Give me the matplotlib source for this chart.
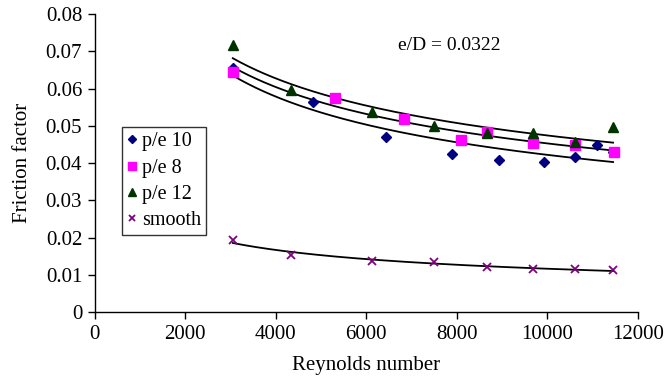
import numpy as np
import matplotlib
matplotlib.use("Agg")
import matplotlib.pyplot as plt

plt.rcParams["font.family"] = ["Liberation Serif", "DejaVu Serif"]

# data (last p/e 10 point sits under the p/e 8 square)
re_pe10 = [3050, 4820, 6430, 7900, 8930, 9930, 10610, 11090, 11450]
f_pe10 = [0.0655, 0.0565, 0.0469, 0.0426, 0.0408, 0.0404, 0.0417, 0.0449, 0.0430]

re_pe8 = [3060, 5310, 6840, 8100, 8660, 9690, 10610, 11460]
f_pe8 = [0.0645, 0.0574, 0.0518, 0.0462, 0.0484, 0.0453, 0.0449, 0.0431]

re_pe12 = [3050, 4330, 6120, 7500, 8660, 9680, 10610, 11450]
f_pe12 = [0.0717, 0.0596, 0.0538, 0.0500, 0.0480, 0.0480, 0.0457, 0.0496]

re_smooth = [3050, 4330, 6120, 7500, 8660, 9680, 10610, 11450]
f_smooth = [0.0194, 0.0154, 0.0138, 0.0136, 0.0122, 0.0115, 0.0116, 0.0113]

series = [
    ("p/e 10", re_pe10, f_pe10, "D", "#000080", 5.5),
    ("p/e 8", re_pe8, f_pe8, "s", "#FF00FF", 6.5),
    ("p/e 12", re_pe12, f_pe12, "^", "#003300", 7),
    ("smooth", re_smooth, f_smooth, "x", "#800080", 6),
]


def power_fit(x, y):
    # same as a spreadsheet power trendline: fit in log-log space
    b, a = np.polyfit(np.log(x), np.log(y), 1)
    xs = np.linspace(min(x), max(x), 200)
    return xs, np.exp(a) * xs ** b


fig = plt.figure(figsize=(6.67, 3.82), dpi=100)
ax = fig.add_axes([0.142, 0.1825, 0.8145, 0.7805])

for label, x, y, m, c, ms in series:
    if m == "x":
        ax.plot(x, y, linestyle="none", marker=m, color=c, markersize=ms,
                markeredgewidth=1.3, label=label, zorder=3)
    else:
        ax.plot(x, y, linestyle="none", marker=m, color=c, markersize=ms,
                markeredgecolor=c, label=label, zorder=3)
    xs, ys = power_fit(x, y)
    ax.plot(xs, ys, color="black", linewidth=1.3, zorder=2)

ax.set_xlim(0, 12000)
ax.set_ylim(0, 0.08)
ax.set_xticks(np.arange(0, 12001, 2000))
ax.set_yticks(np.arange(0, 0.0801, 0.01))
ax.set_yticklabels(["0"] + ["%.2f" % v for v in np.arange(0.01, 0.0801, 0.01)])

for s in ["top", "right"]:
    ax.spines[s].set_visible(False)
for s in ["left", "bottom"]:
    ax.spines[s].set_linewidth(1.0)
ax.tick_params(direction="out", length=5, width=1.0, labelsize=15, pad=4)

ax.set_xlabel("Reynolds number", fontsize=15, labelpad=9)
ax.set_ylabel("Friction factor", fontsize=15, labelpad=10)

ax.text(7840, 0.0717, "e/D = 0.0322", fontsize=14, ha="center", va="center")

leg = ax.legend(loc="upper left", bbox_to_anchor=(0.05, 0.621), borderaxespad=0,
                fancybox=False, edgecolor="black", fontsize=14.5, handlelength=0.5,
                handletextpad=0.25, labelspacing=0.36, borderpad=0.25,
                markerscale=0.8)
leg.get_frame().set_linewidth(1.0)

fig.savefig("out.png", dpi=100)
